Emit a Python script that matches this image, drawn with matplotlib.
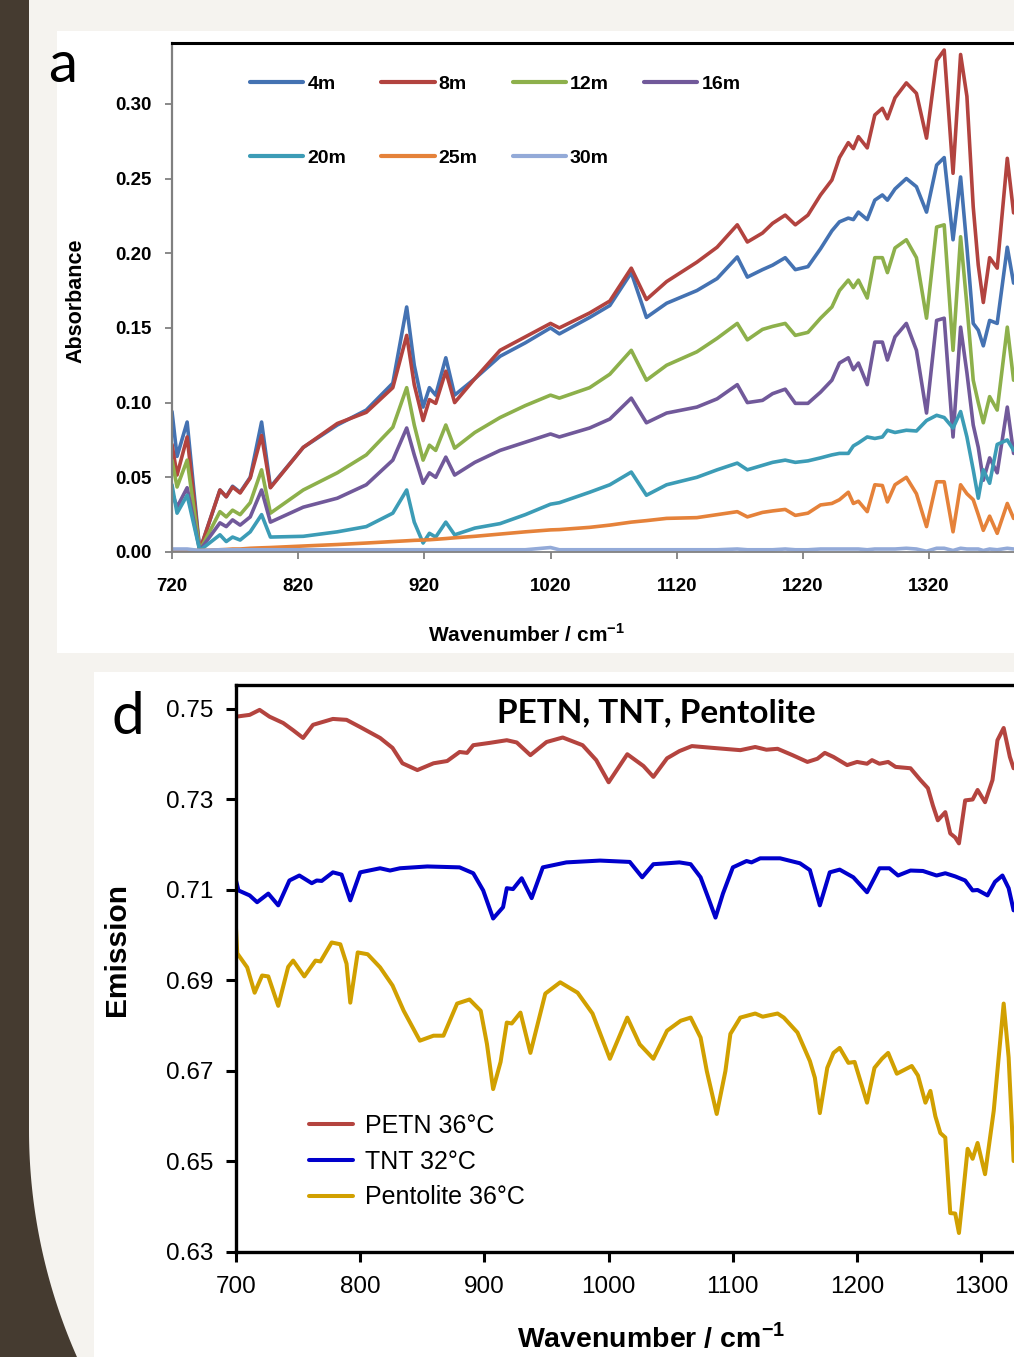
import numpy as np
import matplotlib
matplotlib.use("Agg")
import matplotlib.pyplot as plt
from matplotlib.patches import Rectangle, Polygon

plt.rcParams['font.family'] = ['Liberation Sans', 'DejaVu Sans']
plt.rcParams['mathtext.fontset'] = 'custom'
plt.rcParams['mathtext.rm'] = 'Liberation Sans'
plt.rcParams['mathtext.bf'] = 'Liberation Sans:bold'

# ---------------- panel a data (absorbance vs wavenumber) ----------------
wn_a = [720, 724, 732, 742, 758, 763, 768, 774, 782, 791, 798, 824, 851, 874,
        895, 906, 912, 919, 924, 929, 937, 944, 960, 980, 1000, 1020, 1027,
        1051, 1067, 1084, 1096, 1112, 1136, 1152, 1168, 1176, 1188, 1196, 1206,
        1214, 1224, 1234, 1243, 1249, 1256, 1260, 1264, 1271, 1277, 1283, 1287,
        1293, 1302, 1310, 1318, 1326, 1332, 1339, 1345, 1350, 1355, 1359, 1363,
        1368, 1374, 1382, 1387]

abs_4m = [0.094, 0.064, 0.087, 0.001, 0.0415, 0.037, 0.044, 0.040, 0.050, 0.087,
          0.0435, 0.070, 0.085, 0.095, 0.113, 0.164, 0.125, 0.097, 0.110, 0.105,
          0.130, 0.105, 0.116, 0.131, 0.140, 0.150, 0.146, 0.157, 0.165, 0.187,
          0.157, 0.1665, 0.175, 0.183, 0.1975, 0.184, 0.189, 0.192, 0.197, 0.189,
          0.191, 0.203, 0.215, 0.221, 0.2235, 0.2225, 0.2275, 0.2225, 0.2355,
          0.239, 0.2355, 0.243, 0.250, 0.2445, 0.2275, 0.259, 0.264, 0.209, 0.251,
          0.204, 0.153, 0.1485, 0.138, 0.155, 0.153, 0.204, 0.180]

abs_8m = [0.072, 0.0515, 0.077, 0.001, 0.0415, 0.037, 0.0435, 0.0395, 0.0495,
          0.078, 0.043, 0.070, 0.086, 0.0935, 0.110, 0.145, 0.112, 0.088, 0.102,
          0.0995, 0.121, 0.100, 0.116, 0.135, 0.144, 0.153, 0.150, 0.160, 0.168,
          0.190, 0.169, 0.181, 0.194, 0.204, 0.219, 0.2075, 0.2135, 0.220, 0.2255,
          0.219, 0.2255, 0.239, 0.249, 0.264, 0.274, 0.270, 0.278, 0.2705, 0.2925,
          0.297, 0.290, 0.304, 0.314, 0.307, 0.277, 0.329, 0.336, 0.2535, 0.333,
          0.305, 0.231, 0.192, 0.167, 0.197, 0.190, 0.2635, 0.227]

abs_12m = [0.0615, 0.0435, 0.0615, 0.001, 0.027, 0.0235, 0.028, 0.025, 0.033,
           0.055, 0.026, 0.0415, 0.053, 0.065, 0.0835, 0.110, 0.085, 0.0615,
           0.0715, 0.068, 0.085, 0.0695, 0.080, 0.090, 0.098, 0.105, 0.103,
           0.110, 0.119, 0.135, 0.115, 0.125, 0.134, 0.143, 0.153, 0.142, 0.149,
           0.151, 0.153, 0.145, 0.147, 0.1565, 0.164, 0.175, 0.182, 0.177, 0.182,
           0.170, 0.197, 0.197, 0.187, 0.2035, 0.209, 0.197, 0.1565, 0.2175,
           0.219, 0.135, 0.211, 0.165, 0.115, 0.100, 0.0865, 0.104, 0.095,
           0.1505, 0.115]

abs_16m = [0.040, 0.030, 0.043, 0.001, 0.0195, 0.017, 0.0215, 0.018, 0.0235,
           0.0415, 0.020, 0.030, 0.036, 0.045, 0.0615, 0.083, 0.065, 0.046,
           0.053, 0.050, 0.0635, 0.0515, 0.060, 0.068, 0.0735, 0.079, 0.077,
           0.083, 0.089, 0.103, 0.0865, 0.093, 0.097, 0.1025, 0.112, 0.100,
           0.1015, 0.106, 0.109, 0.0995, 0.0995, 0.107, 0.115, 0.1265, 0.130,
           0.122, 0.1265, 0.112, 0.1405, 0.1405, 0.1285, 0.144, 0.153, 0.135,
           0.093, 0.155, 0.1565, 0.077, 0.1505, 0.120, 0.085, 0.070, 0.048,
           0.063, 0.053, 0.097, 0.066]

abs_20m = [0.045, 0.026, 0.038, 0.001, 0.0115, 0.007, 0.010, 0.008, 0.0135,
           0.025, 0.010, 0.0105, 0.0135, 0.017, 0.026, 0.0415, 0.020, 0.006,
           0.0125, 0.010, 0.020, 0.0115, 0.016, 0.019, 0.025, 0.032, 0.033,
           0.040, 0.045, 0.0535, 0.038, 0.045, 0.050, 0.055, 0.0595, 0.055,
           0.058, 0.060, 0.0615, 0.060, 0.061, 0.063, 0.065, 0.066, 0.066, 0.071,
           0.073, 0.077, 0.076, 0.077, 0.0815, 0.080, 0.0815, 0.081, 0.088,
           0.0915, 0.090, 0.083, 0.094, 0.077, 0.055, 0.036, 0.055, 0.046,
           0.072, 0.075, 0.068]

abs_25m = [0.001, 0.001, 0.001, 0.001, 0.0015, 0.0017, 0.002, 0.002, 0.0025,
           0.0028, 0.003, 0.004, 0.005, 0.006, 0.007, 0.0075, 0.0078, 0.008,
           0.0082, 0.0085, 0.009, 0.0095, 0.0105, 0.012, 0.0135, 0.0148, 0.015,
           0.0165, 0.018, 0.020, 0.021, 0.0225, 0.023, 0.025, 0.027, 0.0235,
           0.0265, 0.0275, 0.0285, 0.0245, 0.026, 0.0315, 0.0325, 0.035, 0.040,
           0.0325, 0.034, 0.027, 0.045, 0.0445, 0.0335, 0.045, 0.050, 0.039,
           0.017, 0.047, 0.047, 0.0135, 0.045, 0.039, 0.035, 0.025, 0.0145,
           0.024, 0.0125, 0.0325, 0.0225]

abs_30m = [0.002, 0.002, 0.002, 0.001, 0.0015, 0.0015, 0.0015, 0.0015, 0.0015,
           0.0015, 0.0015, 0.0015, 0.0015, 0.0015, 0.0015, 0.0015, 0.0015,
           0.0015, 0.0015, 0.0015, 0.0015, 0.0015, 0.0015, 0.0015, 0.0015,
           0.003, 0.0015, 0.0015, 0.0015, 0.0015, 0.0015, 0.0015, 0.0015,
           0.0015, 0.002, 0.0015, 0.0015, 0.0015, 0.002, 0.0015, 0.0015, 0.002,
           0.002, 0.002, 0.002, 0.002, 0.002, 0.0015, 0.002, 0.002, 0.002,
           0.002, 0.0025, 0.002, 0.0005, 0.0025, 0.0025, 0.001, 0.0025, 0.002,
           0.002, 0.002, 0.001, 0.002, 0.0015, 0.0025, 0.002]

labels_a = ['4m', '8m', '12m', '16m', '20m', '25m', '30m']
colors_a = ['#4472B2', '#B2433F', '#8DB04B', '#71599A', '#3C9CB6', '#E5823A', '#93AAD8']

# ---------------- panel d data (emission vs wavenumber) ----------------
wn_petn = [700, 711, 719, 727, 738, 746, 754, 762, 778, 789, 800, 816, 826, 834,
           846, 859, 870, 880, 886, 891, 904, 918, 926, 937, 950, 963, 979, 990,
           1000, 1015, 1028, 1036, 1047, 1057, 1067, 1084, 1106, 1118, 1127,
           1136, 1148, 1160, 1168, 1174, 1181, 1192, 1200, 1208, 1212, 1218,
           1225, 1231, 1243, 1251, 1257, 1261, 1265, 1271, 1275, 1279, 1282,
           1287, 1293, 1297, 1303, 1309, 1313, 1318, 1323, 1326]
em_petn = [0.7483, 0.7487, 0.7498, 0.7483, 0.7469, 0.7453, 0.7436, 0.7465,
           0.7478, 0.7476, 0.7460, 0.7436, 0.7414, 0.7380, 0.7365, 0.7380,
           0.7385, 0.7405, 0.7403, 0.7420, 0.7425, 0.7431, 0.7426, 0.7398,
           0.7427, 0.7437, 0.7420, 0.7387, 0.7338, 0.7400, 0.7374, 0.7350,
           0.7391, 0.7407, 0.7418, 0.7414, 0.7409, 0.7416, 0.7410, 0.7412,
           0.7398, 0.7383, 0.7390, 0.7403, 0.7394, 0.7376, 0.7383, 0.7379,
           0.7387, 0.7379, 0.7383, 0.7372, 0.7369, 0.7343, 0.7325, 0.7287,
           0.7254, 0.7272, 0.7225, 0.7216, 0.7203, 0.7298, 0.7300, 0.7321,
           0.7294, 0.7343, 0.7431, 0.7458, 0.7394, 0.7369]

wn_tnt = [700, 702, 711, 717, 726, 734, 743, 751, 761, 765, 769, 778, 785, 792,
          800, 816, 824, 832, 854, 880, 891, 899, 907, 915, 918, 923, 930, 938,
          947, 966, 993, 1017, 1027, 1036, 1047, 1057, 1066, 1074, 1080, 1086,
          1092, 1100, 1111, 1115, 1122, 1138, 1154, 1162, 1170, 1178, 1186,
          1197, 1208, 1218, 1226, 1233, 1243, 1253, 1264, 1271, 1279, 1287,
          1293, 1297, 1305, 1311, 1317, 1322, 1326]
em_tnt = [0.7121, 0.7099, 0.7088, 0.7073, 0.7092, 0.7066, 0.7121, 0.7132,
          0.7115, 0.7121, 0.7120, 0.7139, 0.7134, 0.7077, 0.7139, 0.7148,
          0.7143, 0.7148, 0.7152, 0.7150, 0.7137, 0.7099, 0.7037, 0.7062,
          0.7104, 0.7102, 0.7126, 0.7082, 0.7150, 0.7161, 0.7165, 0.7162,
          0.7128, 0.7157, 0.7159, 0.7161, 0.7157, 0.7128, 0.7084, 0.7039,
          0.7092, 0.7150, 0.7164, 0.7161, 0.7170, 0.7170, 0.7159, 0.7144,
          0.7066, 0.7139, 0.7145, 0.7128, 0.7095, 0.7148, 0.7148, 0.7132,
          0.7143, 0.7142, 0.7132, 0.7137, 0.7130, 0.7121, 0.7099, 0.7100,
          0.7088, 0.7118, 0.7132, 0.7104, 0.7055]

wn_pent = [700, 701, 709, 715, 721, 726, 734, 742, 746, 755, 764, 768, 777,
           784, 789, 792, 798, 806, 816, 826, 835, 848, 859, 867, 878, 888,
           897, 902, 907, 913, 918, 922, 929, 937, 949, 961, 975, 987, 1001,
           1015, 1025, 1036, 1047, 1058, 1066, 1074, 1079, 1087, 1094, 1098,
           1106, 1118, 1124, 1136, 1141, 1152, 1162, 1166, 1170, 1176, 1181,
           1186, 1193, 1198, 1208, 1214, 1220, 1225, 1232, 1244, 1249, 1255,
           1259, 1263, 1267, 1271, 1275, 1279, 1282, 1285, 1289, 1293, 1297,
           1303, 1310, 1318, 1322, 1326]
em_pent = [0.7015, 0.6960, 0.6929, 0.6873, 0.6911, 0.6909, 0.6844, 0.6930,
           0.6944, 0.6909, 0.6944, 0.6942, 0.6984, 0.6980, 0.6937, 0.6851,
           0.6962, 0.6958, 0.6929, 0.6889, 0.6833, 0.6767, 0.6778, 0.6778,
           0.6849, 0.6858, 0.6833, 0.6760, 0.6660, 0.6720, 0.6807, 0.6805,
           0.6829, 0.6740, 0.6871, 0.6896, 0.6873, 0.6827, 0.6727, 0.6818,
           0.6759, 0.6727, 0.6789, 0.6811, 0.6818, 0.6774, 0.6700, 0.6605,
           0.6700, 0.6782, 0.6818, 0.6827, 0.6820, 0.6827, 0.6818, 0.6785,
           0.6722, 0.6685, 0.6607, 0.6707, 0.6740, 0.6751, 0.6718, 0.6720,
           0.6630, 0.6707, 0.6727, 0.6740, 0.6694, 0.6711, 0.6690, 0.6630,
           0.6656, 0.6600, 0.6563, 0.6553, 0.6386, 0.6385, 0.6342, 0.6420,
           0.6528, 0.6506, 0.6541, 0.6472, 0.6612, 0.6849, 0.6730, 0.6501]

labels_d = ['PETN 36°C', 'TNT 32°C', 'Pentolite 36°C']
colors_d = ['#B4443F', '#0000CC', '#D1A000']

# ---------------- figure / slide background ----------------
W, H = 1014, 1357


def fx(x):
    return x / W


def fy(y):
    return 1 - y / H


fig = plt.figure(figsize=(W / 100, H / 100), dpi=100)
fig.patch.set_facecolor('#F5F3EF')

# dark strip on the left with its rounded bottom
r, yc = 561, 1130
ys = np.linspace(yc, H, 40)
xs = 29 + r - np.sqrt(r ** 2 - (ys - yc) ** 2)
strip = [(0, 0), (29, 0)] + list(zip(xs, ys)) + [(0, H)]
fig.patches.append(Polygon([(fx(x), fy(y)) for x, y in strip], closed=True,
                           transform=fig.transFigure, facecolor='#453B30',
                           edgecolor='none', zorder=-5))
# white panels
fig.patches.append(Rectangle((fx(57), fy(653)), fx(W) - fx(57), fy(31) - fy(653),
                             transform=fig.transFigure, facecolor='white',
                             edgecolor='none', zorder=-4))
fig.patches.append(Rectangle((fx(94), fy(H)), fx(W) - fx(94), fy(672) - fy(H),
                             transform=fig.transFigure, facecolor='white',
                             edgecolor='none', zorder=-4))

# ---------------- panel a ----------------
ax_a = fig.add_axes([fx(172), fy(552), fx(1030) - fx(172), fy(43) - fy(552)])
ax_a.set_facecolor('white')
lines_a = []
for vals, lab, col in zip([abs_4m, abs_8m, abs_12m, abs_16m, abs_20m, abs_25m, abs_30m],
                          labels_a, colors_a):
    ln, = ax_a.plot(wn_a, vals, color=col, lw=2.6, label=lab,
                    solid_joinstyle='round', solid_capstyle='round')
    lines_a.append(ln)
ax_a.set_xlim(720, 1400)
ax_a.set_ylim(0, 0.3407)
ax_a.set_xticks(np.arange(720, 1321, 100))
ax_a.set_yticks(np.arange(0, 0.301, 0.05))
ax_a.set_yticklabels(['%.2f' % v for v in np.arange(0, 0.301, 0.05)])
ax_a.tick_params(axis='both', direction='out', length=5, width=1.3, color='#808080',
                 labelsize=13.5)
ax_a.tick_params(axis='y', pad=10)
ax_a.tick_params(axis='x', pad=14)
for lbl in ax_a.get_xticklabels() + ax_a.get_yticklabels():
    lbl.set_fontweight('bold')
ax_a.spines['right'].set_visible(False)
ax_a.spines['top'].set_color('black')
ax_a.spines['top'].set_linewidth(2.2)
ax_a.spines['left'].set_color('#808080')
ax_a.spines['left'].set_linewidth(1.6)
ax_a.spines['bottom'].set_color('#808080')
ax_a.spines['bottom'].set_linewidth(1.3)

order = [0, 4, 1, 5, 2, 6, 3]
leg_a = ax_a.legend([lines_a[i] for i in order], [labels_a[i] for i in order], ncol=4,
                    loc='upper left', bbox_to_anchor=(fx(250), fy(75)),
                    bbox_transform=fig.transFigure, frameon=False,
                    prop={'weight': 'bold', 'size': 14}, handlelength=2.75,
                    handletextpad=0.2, columnspacing=1.8, labelspacing=2.9,
                    borderpad=0, borderaxespad=0)
for h in leg_a.get_lines():
    h.set_linewidth(3.0)

fig.text(fx(527), fy(635), r'Wavenumber / cm$^{\mathbf{-1}}$', ha='center', va='center',
         fontsize=15, fontweight='bold')
fig.text(fx(76), fy(301), 'Absorbance', rotation=90, ha='center', va='center',
         fontsize=15.5, fontweight='bold')
fig.text(fx(63), fy(66), 'a', ha='center', va='center', fontsize=42,
         family=['Lato', 'DejaVu Sans'])

# ---------------- panel d ----------------
ax_d = fig.add_axes([fx(236), fy(1252), fx(1031) - fx(236), fy(685) - fy(1252)])
ax_d.set_facecolor('white')
for xs_, vals, lab, col in zip([wn_petn, wn_tnt, wn_pent], [em_petn, em_tnt, em_pent],
                               labels_d, colors_d):
    ax_d.plot(xs_, vals, color=col, lw=2.9, label=lab,
              solid_joinstyle='round', solid_capstyle='round')
ax_d.set_xlim(700, 1340)
ax_d.set_ylim(0.63, 0.7553)
ax_d.set_xticks(np.arange(700, 1301, 100))
ax_d.set_yticks(np.arange(0.63, 0.751, 0.02))
ax_d.set_yticklabels(['%.2f' % v for v in np.arange(0.63, 0.751, 0.02)])
ax_d.tick_params(axis='both', direction='out', length=7, width=2.2, color='black',
                 labelsize=17.5)
ax_d.tick_params(axis='y', pad=9)
ax_d.tick_params(axis='x', pad=10)
ax_d.spines['right'].set_visible(False)
for s in ['top', 'left', 'bottom']:
    ax_d.spines[s].set_linewidth(2.4)
    ax_d.spines[s].set_color('black')

ax_d.legend(loc='upper left', bbox_to_anchor=(fx(309), fy(1114)),
            bbox_transform=fig.transFigure, frameon=False, fontsize=18,
            handlelength=1.76, handletextpad=0.48, labelspacing=0.47,
            borderpad=0, borderaxespad=0)

fig.text(fx(656), fy(713), 'PETN, TNT, Pentolite', ha='center', va='center',
         fontsize=24, fontweight='bold', family=['Lato', 'DejaVu Sans'])
fig.text(fx(651), fy(1338), r'Wavenumber / cm$^{\mathbf{-1}}$', ha='center', va='center',
         fontsize=20.5, fontweight='bold')
fig.text(fx(117), fy(949), 'Emission', rotation=90, ha='center', va='center',
         fontsize=21.5, fontweight='bold')
fig.text(fx(128), fy(718), 'd', ha='center', va='center', fontsize=42,
         family=['Lato', 'DejaVu Sans'])

fig.savefig('out.png', dpi=100, facecolor=fig.get_facecolor())
